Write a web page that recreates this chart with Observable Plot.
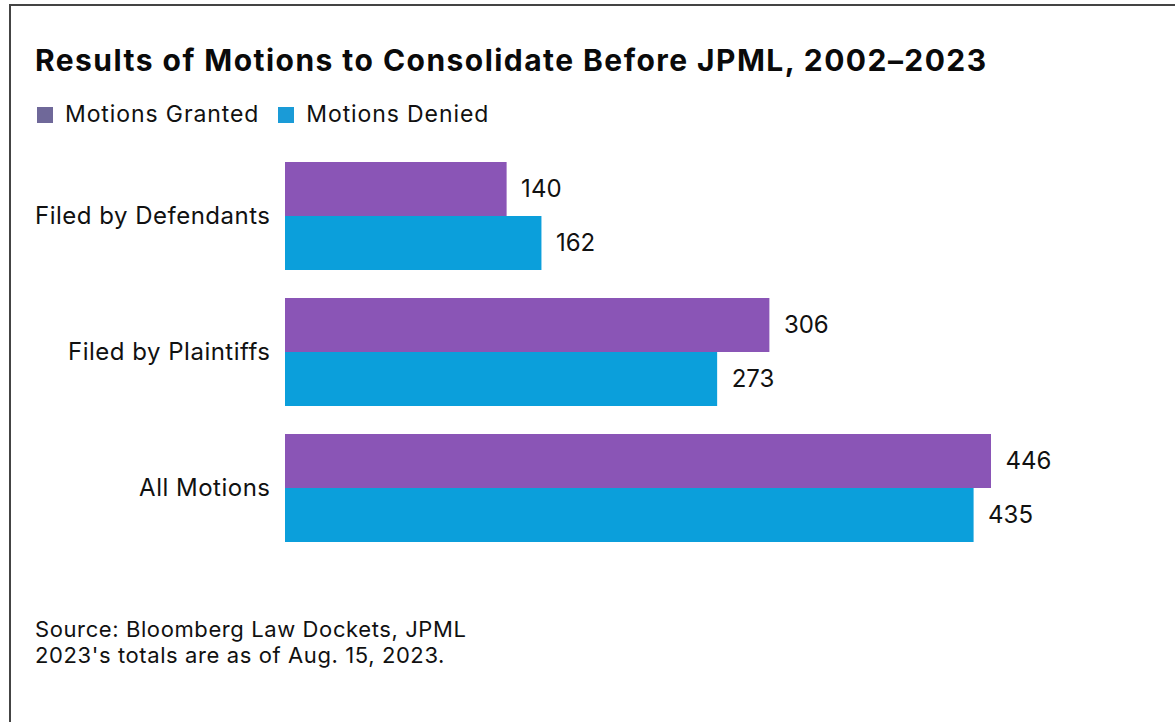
<!DOCTYPE html>
<html>
<head>
<meta charset="utf-8">
<script src="https://cdn.jsdelivr.net/npm/d3@7"></script>
<script src="https://cdn.jsdelivr.net/npm/@observablehq/plot@0.6"></script>
<style>
  html, body { margin: 0; padding: 0; background: #fff; }
  body { width: 1175px; height: 722px; position: relative; overflow: hidden; font-family: Inter, "Liberation Sans", sans-serif; color: #111; }
  #frame { position: absolute; left: 9px; top: 4px; width: 1200px; height: 800px; border-left: 2px solid #444; border-top: 2px solid #444; }
  #title { position: absolute; left: 35px; top: 45px; font-size: 30px; line-height: 30px; font-weight: 700; letter-spacing: 1.45px; white-space: nowrap; color: #0a0a0a; }
  #legend { position: absolute; left: 37px; top: 103px; font-size: 23px; line-height: 23px; display: flex; align-items: center; white-space: nowrap; letter-spacing: 0.9px; }
  #legend .sw { display: inline-block; width: 16px; height: 16px; margin-right: 12px; }
  #legend .item { display: flex; align-items: center; margin-right: 19px; }
  #chart { position: absolute; left: 0; top: 140px; }
  #caption { position: absolute; left: 35px; top: 616px; font-size: 22px; line-height: 26px; letter-spacing: 0.6px; white-space: nowrap; }
</style>
</head>
<body>
<div id="frame"></div>
<div id="title">Results of Motions to Consolidate Before JPML, 2002–2023</div>
<div id="legend"></div>
<div id="chart"></div>
<div id="caption">Source: Bloomberg Law Dockets, JPML<br>2023's totals are as of Aug. 15, 2023.</div>
<script>
const categories = ["Filed by Defendants", "Filed by Plaintiffs", "All Motions"];
const series = ["Motions Granted", "Motions Denied"];
const granted = [140, 306, 446];
const denied = [162, 273, 435];
const barColors = ["#8a55b6", "#0b9fdb"];
const swatchColors = ["#6f6899", "#1a9bd7"];

const data = [];
categories.forEach((c, i) => {
  data.push({category: c, series: series[0], value: granted[i]});
  data.push({category: c, series: series[1], value: denied[i]});
});

const legend = document.getElementById("legend");
series.forEach((s, i) => {
  const item = document.createElement("span");
  item.className = "item";
  item.innerHTML = `<span class="sw" style="background:${swatchColors[i]}"></span>${s}`;
  legend.appendChild(item);
});

const maxV = d3.max(data, d => d.value);
const chart = Plot.plot({
  width: 1175,
  height: 410,
  marginLeft: 285,
  marginRight: 184,
  marginTop: 22,
  marginBottom: 8,
  style: {fontFamily: "Inter, 'Liberation Sans', sans-serif", fontSize: "24px", color: "#111", background: "transparent", overflow: "visible"},
  x: {domain: [0, maxV], axis: null},
  y: {domain: series, axis: null, padding: 0},
  fy: {domain: categories, paddingInner: 0.206, paddingOuter: 0, label: null},
  color: {domain: series, range: barColors},
  marks: [
    Plot.barX(data, {fy: "category", y: "series", x: "value", fill: "series"}),
    Plot.text(data, {fy: "category", y: "series", x: "value", text: d => String(d.value), textAnchor: "start", dx: 14, fill: "#111", fontSize: 24, style: "letter-spacing:1px"}),
    Plot.axisFy({anchor: "left", tickSize: 0, tickPadding: 15, fontSize: 24, label: null})
  ]
});
chart.querySelectorAll("[aria-label='fy-axis tick label'] text").forEach(t => t.style.letterSpacing = "0.5px");
document.getElementById("chart").appendChild(chart);
</script>
</body>
</html>
